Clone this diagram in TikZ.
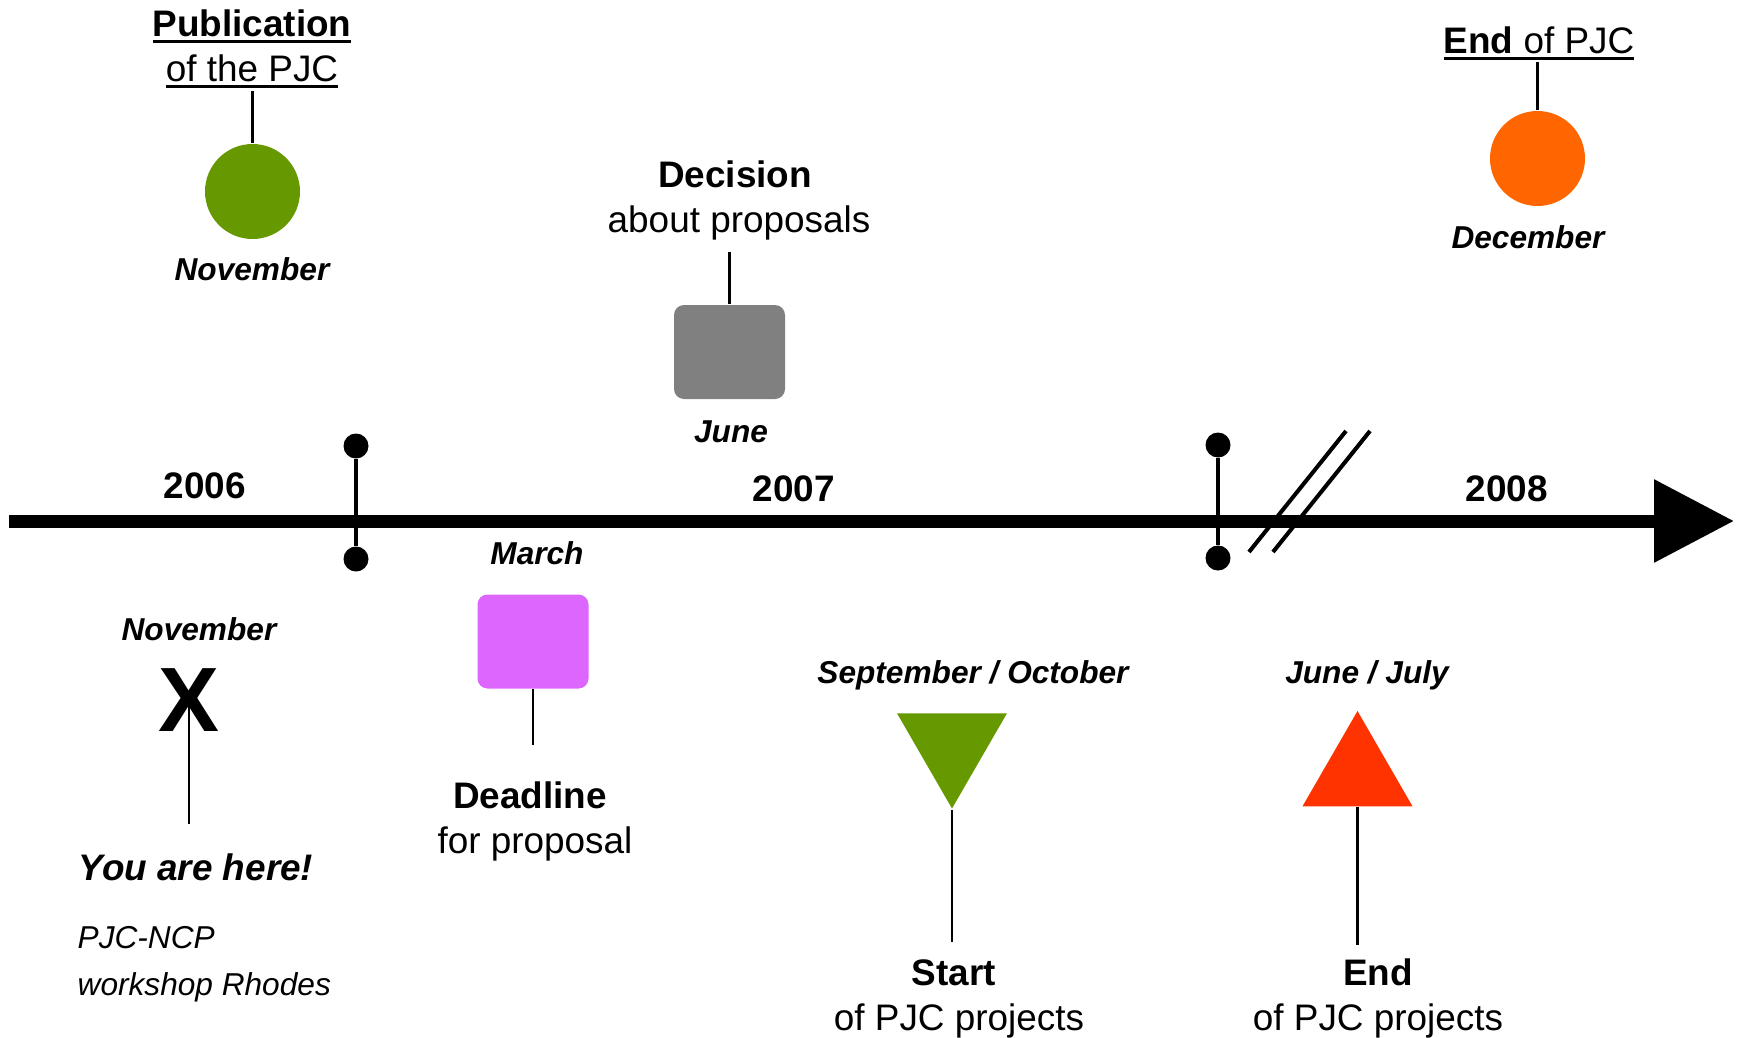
\documentclass[tikz,border=0pt]{standalone}
\usepackage{fontspec}
\setmainfont{Liberation Sans}
\usetikzlibrary{shapes.geometric, arrows.meta, positioning}

\definecolor{pjcgreen}{HTML}{669900}
\definecolor{pjcgray}{HTML}{808080}
\definecolor{pjcpink}{HTML}{DD66FF}
\definecolor{pjcorange}{HTML}{FF6600}
\definecolor{pjcred}{HTML}{FF3300}

\newcommand{\ulbar}[1]{\setbox0=\hbox{#1}\rlap{\rule[-1.95pt]{\wd0}{0.95pt}}\box0}

\begin{document}
\begin{tikzpicture}[x=0.1mm, y=-0.1mm, node distance=0.7mm,
        lbl/.style={inner sep=0pt, anchor=base, text height=8pt, text depth=2.5pt, font=\fontsize{10.5}{12}\selectfont},
        head/.style={lbl, font=\fontsize{10.5}{12}\selectfont\bfseries},
        month/.style={inner sep=0pt, anchor=base, font=\fontsize{9}{11}\selectfont\bfseries\itshape},
        note/.style={inner sep=0pt, anchor=base west, font=\fontsize{9}{11}\selectfont\itshape},
        dot/.style={circle, fill=#1, inner sep=0pt, minimum size=9.5mm},
        card/.style={rectangle, rounded corners=1mm, fill=#1, inner sep=0pt, minimum width=11.1mm, minimum height=9.4mm},
        tri/.style={regular polygon, regular polygon sides=3, fill=#1, inner sep=0pt, minimum size=12.7mm},
        tdot/.style={circle, fill=black, inner sep=0pt, minimum size=2.5mm},
        axis/.style={line width=3.7pt, -{Triangle[length=8mm, width=8mm]}},
        tick/.style={line width=1.4pt},
        brk/.style={line width=1.15pt},
        leader/.style={draw, line width=0.6pt}
    ]
        \useasboundingbox (0,0) rectangle (1738,1038);
        % Time axis
        \coordinate (axstart) at (9,521);
        \coordinate (axend) at (1734,521);
        \draw[axis] (axstart) -- (axend);
        % Year boundaries
        \node[tdot] (tick1a) at (356,446) {};
        \node[tdot] (tick1b) at (356,559) {};
        \node[tdot] (tick2a) at (1218,445) {};
        \node[tdot] (tick2b) at (1218,558) {};
        \draw[tick] (tick1a) -- (tick1b);
        \draw[tick] (tick2a) -- (tick2b);
        \foreach \dx in {0,24}
            \draw[brk] (1249+\dx,552) -- (1346+\dx,431);
        % Years
        \node[head] (y2006) at (205,498) {2006};
        \node[head] (y2007) at (794,501) {2007};
        \node[head] (y2008) at (1507,501) {2008};

        % Publication
        \node[head] (pub1) at (252,36) {\ulbar{Publication}};
        \node[lbl, below=of pub1] (pub2) {\ulbar{of the PJC}};
        \node[dot=pjcgreen] (pubdot) at (252.5,191.5) {};
        \node[month] (pubmon) at (252,280) {November};
        \draw[leader] (pubdot.north) -- (pubdot.north |- pub2.south);
        % Decision
        \node[head] (dec1) at (735,187) {Decision};
        \node[lbl, below=of dec1, xshift=0.4mm] (dec2) {about proposals};
        \node[card=pjcgray] (decbox) at (729.5,352) {};
        \node[month] (decmon) at (731,442) {June};
        \draw[leader, shorten >=1mm] (decbox.north) -- (decbox.north |- dec2.south);
        % End of PJC
        \node[lbl] (endl) at (1539,53) {\ulbar{\textbf{End} of PJC}};
        \node[dot=pjcorange] (enddot) at (1537.5,158.5) {};
        \node[month] (endmon) at (1528,248) {December};
        \draw[leader] (enddot.north) -- (enddot.north |- endl.south);

        % You are here
        \node[month] (nov2) at (199,640) {November};
        \node[inner sep=0pt, font=\fontsize{26}{30}\selectfont\bfseries] (xmark) at (189,700) {X};
        \node[head, font=\fontsize{10.5}{12}\selectfont\bfseries\itshape] (here) at (196,880) {You are here!};
        \node[note] (ws1) at (77,948) {PJC-NCP};
        \node[note] (ws2) at (77,995) {workshop Rhodes};
        \draw[leader, shorten >=2.7mm] (xmark.center) -- (xmark.center |- here.north);
        % Deadline
        \node[month] (marmon) at (537,564) {March};
        \node[card=pjcpink] (dlbox) at (533,641.5) {};
        \node[head] (dl1) at (530,808) {Deadline};
        \node[lbl, below=of dl1, xshift=0.5mm] (dl2) {for proposal};
        \draw[leader, shorten >=3.4mm] (dlbox.south) -- (dlbox.south |- dl1.north);
        % Start of projects
        \node[month] (sepmon) at (973,683) {September / October};
        \node[tri=pjcgreen, shape border rotate=180] (startri) at (952,745) {};
        \node[head] (start1) at (954,985) {Start};
        \node[lbl, below=of start1, xshift=0.5mm] (start2) {of PJC projects};
        \draw[leader, shorten >=1.4mm] (startri.south) -- (startri.south |- start1.north);
        % End of projects
        \node[month] (julmon) at (1367,683) {June / July};
        \node[tri=pjcred] (endtri) at (1357.5,774.5) {};
        \node[head] (end1) at (1378,985) {End};
        \node[lbl, below=of end1] (end2) {of PJC projects};
        \draw[leader, shorten >=1.1mm] (endtri.south) -- (endtri.south |- end1.north);
    \end{tikzpicture}
\end{document}
